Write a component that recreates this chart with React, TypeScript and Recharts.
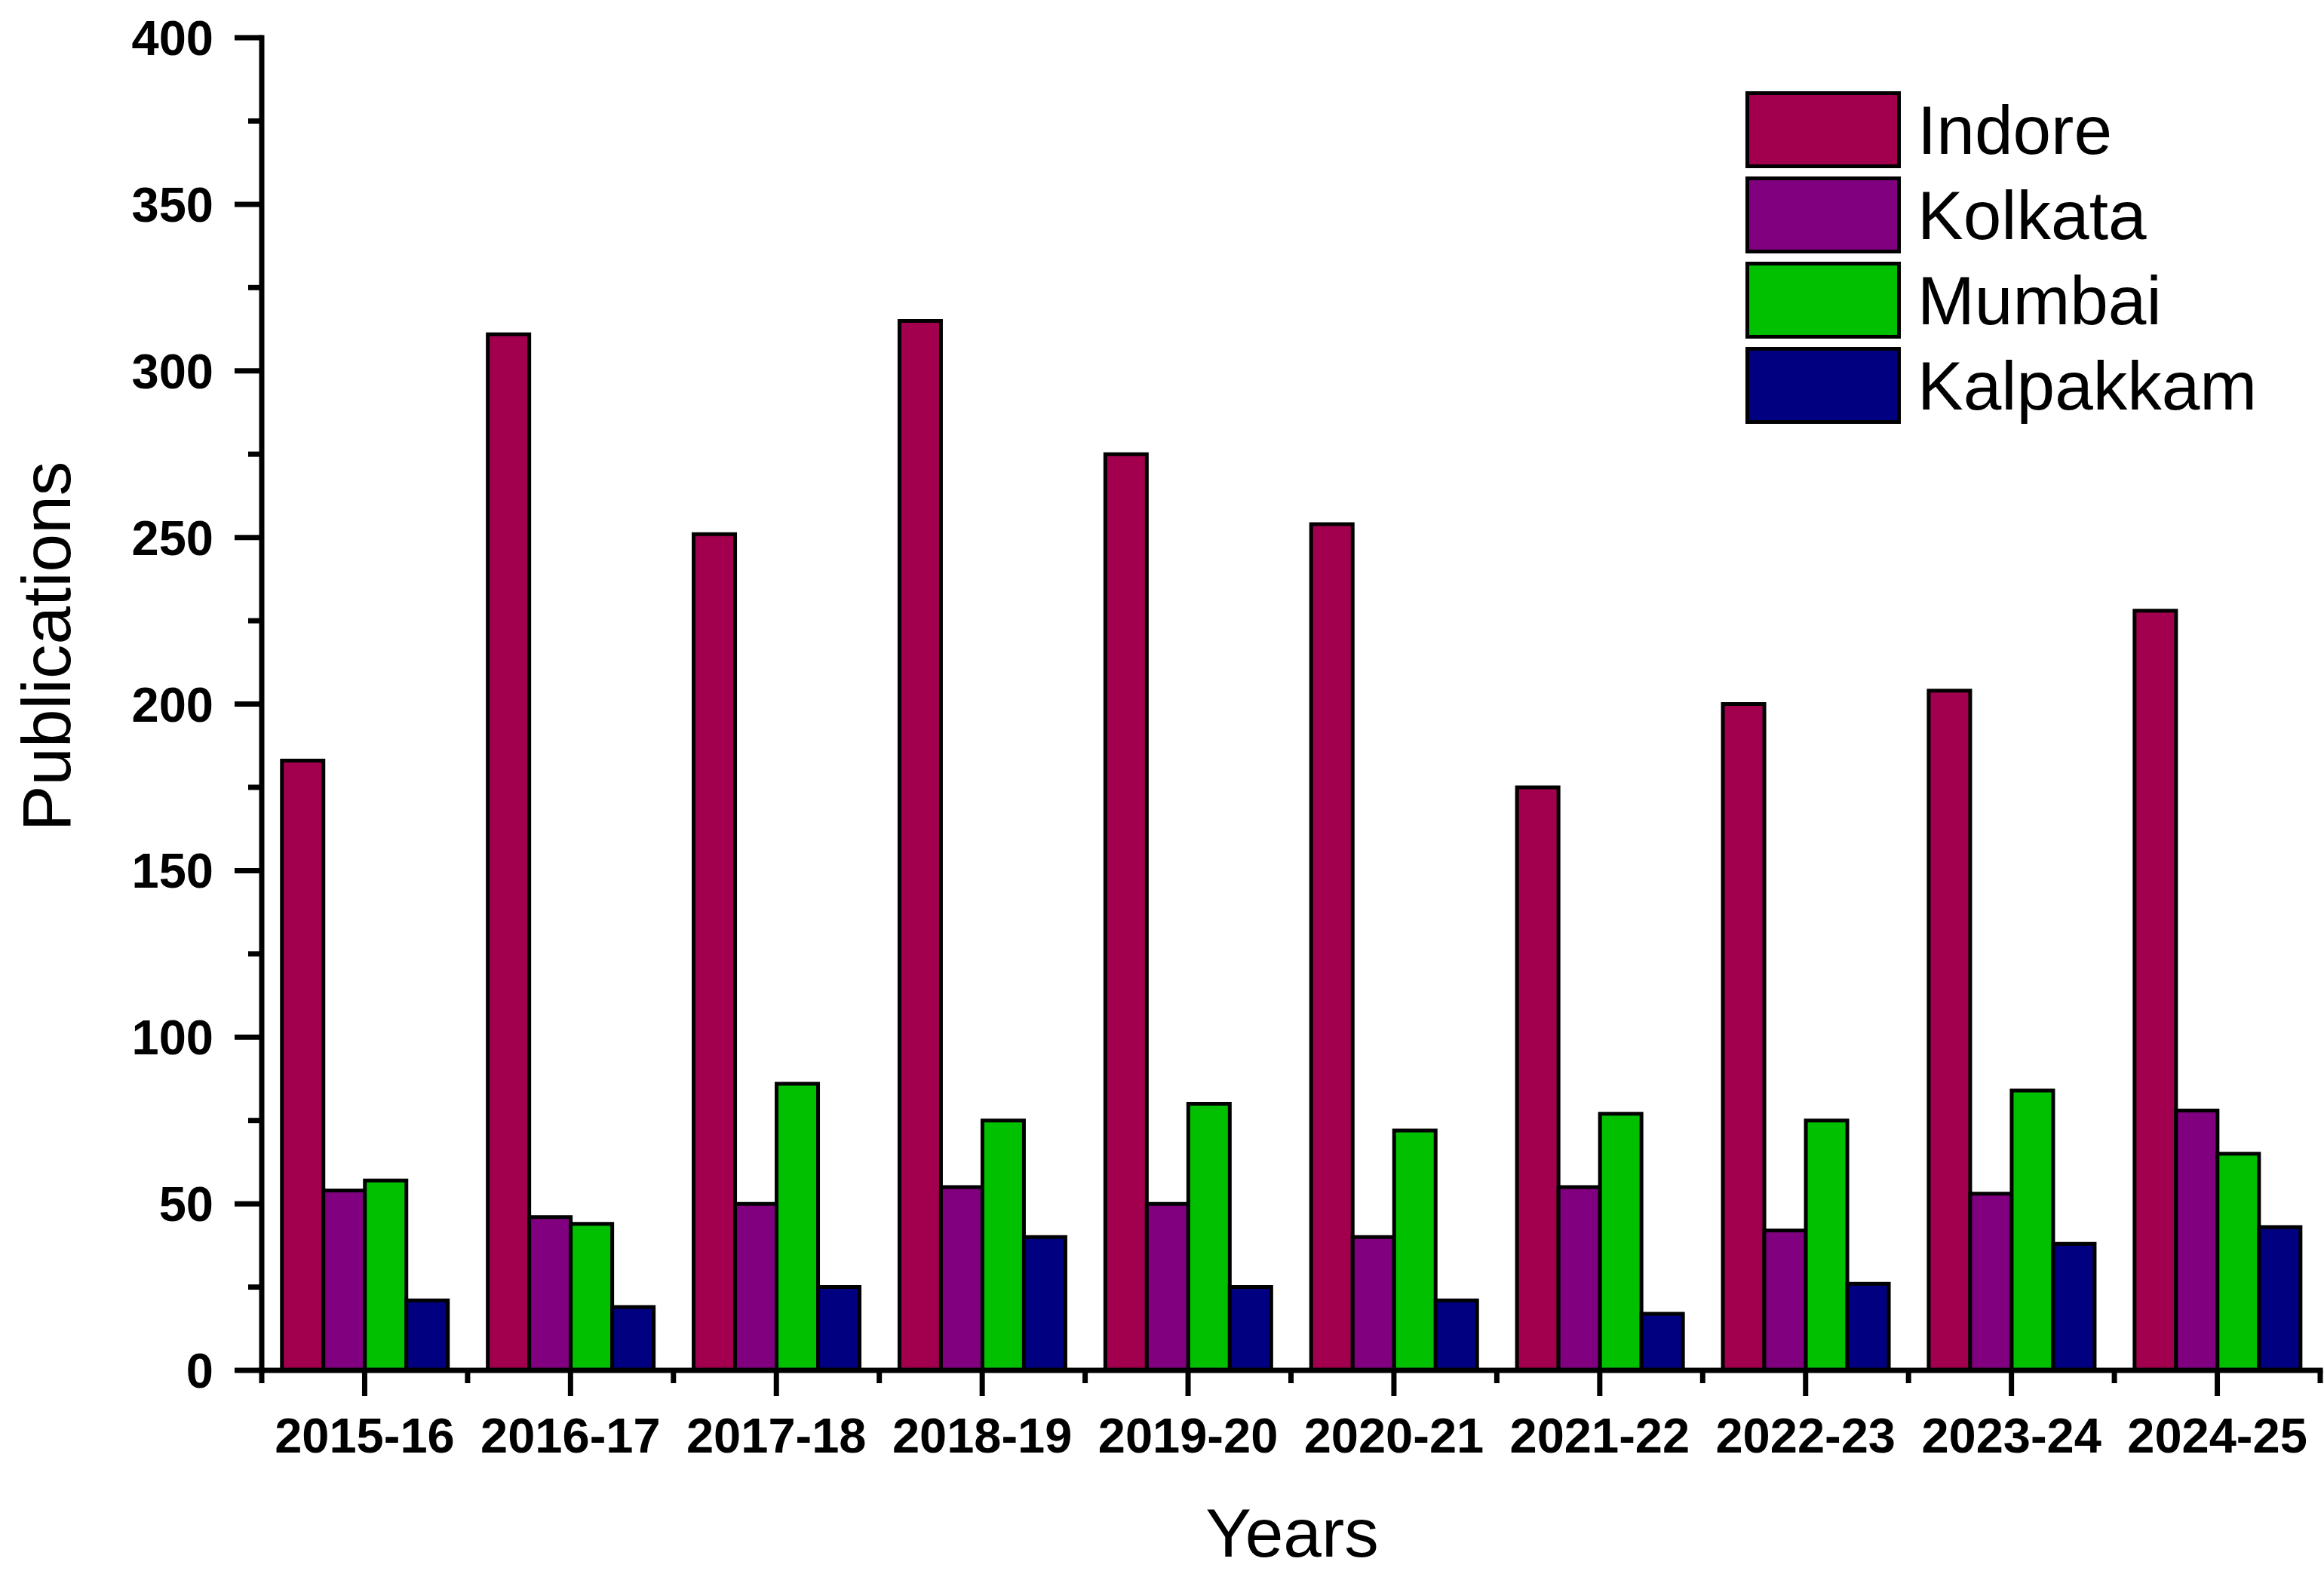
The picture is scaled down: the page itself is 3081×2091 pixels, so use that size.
import React from "react";
import { BarChart, Bar, XAxis, YAxis, Legend } from "recharts";

const years = ["2015-16", "2016-17", "2017-18", "2018-19", "2019-20", "2020-21", "2021-22", "2022-23", "2023-24", "2024-25"];
const indore = [183, 311, 251, 315, 275, 254, 175, 200, 204, 228];
const kolkata = [54, 46, 50, 55, 50, 40, 55, 42, 53, 78];
const mumbai = [57, 44, 86, 75, 80, 72, 77, 75, 84, 65];
const kalpakkam = [21, 19, 25, 40, 25, 21, 17, 26, 38, 43];
const yTicks = [0, 25, 50, 75, 100, 125, 150, 175, 200, 225, 250, 275, 300, 325, 350, 375, 400];

const seriesNames = ["Indore", "Kolkata", "Mumbai", "Kalpakkam"];
const seriesColors = ["#A2004F", "#800080", "#00C000", "#000080"];

const data = years.map((y, i) => ({
  year: y,
  Indore: indore[i],
  Kolkata: kolkata[i],
  Mumbai: mumbai[i],
  Kalpakkam: kalpakkam[i],
}));

const W = 3081;
const H = 2091;
const M_TOP = 50;
const M_RIGHT = 5;
const Y_W = 347;
const X_H = 274;
const PLOT_LEFT = Y_W;
const PLOT_RIGHT = W - M_RIGHT;
const PLOT_BOTTOM = H - X_H;
const BAND = (PLOT_RIGHT - PLOT_LEFT) / years.length;
const FONT = "'Liberation Sans', Arial, Helvetica, sans-serif";
const AX = 7;

const YTick = (props: any) => {
  const v = props.payload.value;
  const y = props.payload.coordinate ?? props.y;
  const major = v % 50 === 0;
  const len = major ? 36 : 18;
  return (
    <g>
      <line x1={PLOT_LEFT - len} x2={PLOT_LEFT} y1={y} y2={y} stroke="#000" strokeWidth={AX} />
      {major && (
        <text x={283} y={y + 23} textAnchor="end" fontFamily={FONT} fontWeight="bold" fontSize={65} fill="#000">
          {v}
        </text>
      )}
    </g>
  );
};

const XTick = (props: any) => {
  const x = props.payload.coordinate ?? props.x;
  const idx = props.index;
  const last = idx === years.length - 1;
  return (
    <g>
      <line x1={x} x2={x} y1={PLOT_BOTTOM} y2={PLOT_BOTTOM + 34} stroke="#000" strokeWidth={AX} />
      <line x1={x - BAND / 2} x2={x - BAND / 2} y1={PLOT_BOTTOM} y2={PLOT_BOTTOM + 17} stroke="#000" strokeWidth={AX} />
      {last && (
        <line x1={x + BAND / 2} x2={x + BAND / 2} y1={PLOT_BOTTOM} y2={PLOT_BOTTOM + 17} stroke="#000" strokeWidth={AX} />
      )}
      <text x={x} y={1926} textAnchor="middle" fontFamily={FONT} fontWeight="bold" fontSize={65} fill="#000">
        {props.payload.value}
      </text>
    </g>
  );
};

const LegendContent = (props: any) => {
  const items = [...(props.payload || [])].sort(
    (a: any, b: any) => seriesNames.indexOf(a.value) - seriesNames.indexOf(b.value)
  );
  return (
    <div style={{ fontFamily: FONT }}>
      {items.map((it: any, i: number) => (
        <div key={i} style={{ display: "flex", alignItems: "center", height: 102, marginBottom: 11 }}>
          <div
            style={{
              width: 206,
              height: 102,
              boxSizing: "border-box",
              background: it.color,
              border: "5px solid #000",
            }}
          />
          <span style={{ marginLeft: 22, fontSize: 91, lineHeight: 1, color: "#000", whiteSpace: "nowrap" }}>
            {it.value}
          </span>
        </div>
      ))}
    </div>
  );
};

const YLabel = () => (
  <text x={93} y={857} transform="rotate(-90, 93, 857)" textAnchor="middle" fontFamily={FONT} fontSize={91} fill="#000">
    Publications
  </text>
);

const XLabel = () => (
  <text x={1713} y={2064} textAnchor="middle" fontFamily={FONT} fontSize={91} fill="#000">
    Years
  </text>
);

export default function App() {
  return (
    <div style={{ position: "absolute", left: 0, top: 0, width: W, height: H, background: "#fff" }}>
      <BarChart
        width={W}
        height={H}
        data={data}
        margin={{ top: M_TOP, right: M_RIGHT, left: 0, bottom: 0 }}
        barCategoryGap="9.8%"
        barGap={0}
      >
        <XAxis
          dataKey="year"
          height={X_H}
          interval={0}
          tickLine={false}
          tick={<XTick />}
          axisLine={{ stroke: "#000", strokeWidth: AX, strokeLinecap: "square" }}
          label={<XLabel />}
        />
        <XAxis
          xAxisId="top"
          dataKey="year"
          orientation="top"
          height={0}
          tick={false}
          tickLine={false}
          axisLine={{ stroke: "#000", strokeWidth: AX, strokeLinecap: "square" }}
        />
        <YAxis
          width={Y_W}
          domain={[0, 400]}
          ticks={yTicks}
          interval={0}
          tickLine={false}
          tick={<YTick />}
          axisLine={{ stroke: "#000", strokeWidth: AX, strokeLinecap: "square" }}
          label={<YLabel />}
        />
        <YAxis
          yAxisId="right"
          orientation="right"
          width={0}
          domain={[0, 400]}
          tick={false}
          tickLine={false}
          axisLine={{ stroke: "#000", strokeWidth: AX, strokeLinecap: "square" }}
        />
        <Legend
          layout="horizontal"
          align="center"
          verticalAlign="middle"
          content={<LegendContent />}
          wrapperStyle={{ position: "absolute", left: 2314, top: 121, width: 700, height: 460 }}
        />
        {seriesNames.map((name, i) => (
          <Bar
            key={name}
            dataKey={name}
            name={name}
            fill={seriesColors[i]}
            stroke="#000"
            strokeWidth={5}
            isAnimationActive={false}
          />
        ))}
      </BarChart>
    </div>
  );
}
